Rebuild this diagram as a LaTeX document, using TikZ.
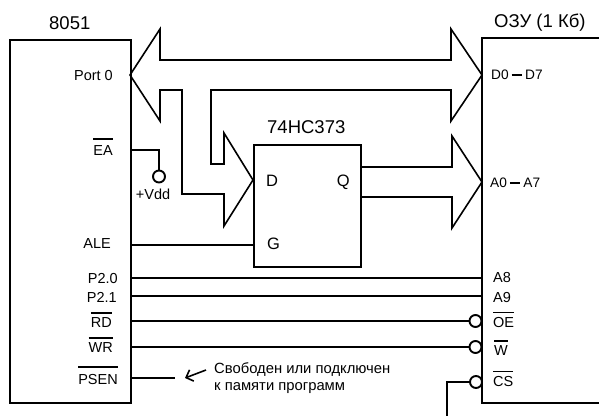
\documentclass[tikz,border=0pt]{standalone}
\usepackage{fontspec}
\setmainfont{Liberation Sans}
\usetikzlibrary{arrows.meta}
\newcommand\ovl[2]{\leavevmode\vbox{\hrule height 1.6pt \kern #1pt \hbox{#2}}}
\newcommand\fs[1]{\fontsize{#1}{#1}\selectfont}
\newcommand\dashbar{\kern3pt\rule[3.4pt]{10pt}{2pt}\kern3.5pt}
\tikzset{
  x=1pt,y=-1pt,
  wire/.style={line width=1.6pt},
  chip/.style={draw,line width=1.6pt,rectangle,inner sep=0pt,anchor=north west},
  bus/.style={line width=1.6pt,line join=miter,miter limit=10},
  bubble/.style={draw,line width=1.9pt,circle,inner sep=0pt,minimum size=12pt,fill=white},
  lblr/.style={anchor=base east,inner sep=0pt,font=\fs{14.5}},
  lbll/.style={anchor=base west,inner sep=0pt,font=\fs{14.5}},
  title/.style={anchor=base west,inner sep=0pt,font=\fs{18.5}},
  pinl/.style={anchor=base west,inner sep=0pt,font=\fs{16.5}},
}
\begin{document}
\begin{tikzpicture}
\useasboundingbox (0,0) rectangle (599,416);
% chips
\node[chip,minimum width=121pt,minimum height=363pt] (mcu) at (9,39) {};
\node[chip,minimum width=107pt,minimum height=122pt] (latch) at (253,144) {};
\coordinate (ramtl) at (482,38);
\coordinate (ramtr) at (599,38);
\coordinate (rambl) at (482,403);
\coordinate (rambr) at (599,403);
\draw[wire,line join=miter] (ramtr) -- (ramtl) -- (rambl) -- (rambr);
% titles
\node[title] (t8051) at (49,29) {8051};
\node[title] (t373) at (267,133) {74HC373};
\node[title] (tram) at (494,27) {ОЗУ (1 Кб)};
% mcu labels
\node[lblr] (lport) at (113,80) {Port 0};
\node[lblr] (lea) at (113,155) {\ovl{5.5}{EA}};
\node[lblr] (lale) at (111,248) {ALE};
\node[lblr] (lp20) at (118,283) {P2.0};
\node[lblr] (lp21) at (117,302) {P2.1};
\node[lblr] (lrd) at (112,327) {\ovl{3.5}{RD}};
\node[lblr] (lwr) at (113,352) {\ovl{3.5}{WR}};
\node[lblr] (lpsen) at (118,384) {\ovl{6}{PSEN}};
% latch labels
\node[pinl] (ld) at (266,186) {D};
\node[pinl,anchor=base east] (lq) at (350,186) {Q};
\node[pinl] (lg) at (267,249) {G};
% ram labels
\node[lbll,font=\fs{13.7}] (ldd) at (491,79) {D0\dashbar D7};
\node[lbll,font=\fs{13.7}] (laa) at (490,187) {A0\dashbar A7};
\node[lbll] (la8) at (493,282) {A8};
\node[lbll] (la9) at (493,302) {A9};
\node[lbll] (loe) at (493,327) {\ovl{3.5}{OE}};
\node[lbll] (lw) at (494,355) {\ovl{3.5}{W}};
\node[lbll] (lcs) at (493,386) {\ovl{3.5}{CS}};
% data / address bus
\draw[bus] (130,75) -- (160,29) -- (160,60) -- (451,60) -- (451,29) -- (482,75)
  -- (451,121) -- (451,90) -- (211,90) -- (211,164) -- (224,164) -- (224,133)
  -- (253,180) -- (224,226) -- (224,194) -- (182,194) -- (182,90) -- (160,90)
  -- (160,121) -- cycle;
\draw[bus] (360,167) -- (452,167) -- (452,136) -- (482,182) -- (452,228)
  -- (452,197) -- (360,197);
% EA
\node[bubble] (vdd) at (159,176.5) {};
\coordinate (eaout) at (130,150);
\draw[wire,line join=miter] (eaout) -- (eaout -| vdd) -- (vdd.north);
\node[anchor=base,inner sep=0pt,font=\fs{14.5}] (lvdd) at (153,199) {+Vdd};
% control wires
\coordinate (aleout) at (130,245);
\draw[wire] (aleout) -- (aleout -| latch.west);
\coordinate (p20a) at (131,278);
\coordinate (p20b) at (482,278);
\draw[wire] (p20a) -- (p20b);
\coordinate (p21a) at (130,296);
\coordinate (p21b) at (482,296);
\draw[wire] (p21a) -- (p21b);
\node[bubble] (boe) at (475.5,321) {};
\node[bubble] (bw) at (475.5,347) {};
\node[bubble] (bcs) at (476,382) {};
\coordinate (rdout) at (130,321);
\draw[wire] (rdout) -- (boe.west);
\coordinate (wrout) at (130,347);
\draw[wire] (wrout) -- (bw.west);
\coordinate (psout) at (130,378);
\coordinate (psend) at (175,378);
\draw[wire] (psout) -- (psend);
\coordinate (csdown) at (447,416);
\draw[wire,line join=miter] (bcs.west) -- (bcs.west -| csdown) -- (csdown);
% note
\node[anchor=base west,inner sep=0pt,font=\fs{14.8}] (note1) at (214,373) {Свободен или подключен};
\node[anchor=base west,inner sep=0pt,font=\fs{14.8}] (note2) at (214,390) {к памяти программ};
\coordinate (noteout) at (206,370);
\coordinate (notetip) at (185,378);
\draw[wire,-{Straight Barb[length=6pt,width=12pt,line width=1.6pt]}] (noteout) -- (notetip);
\end{tikzpicture}
\end{document}
